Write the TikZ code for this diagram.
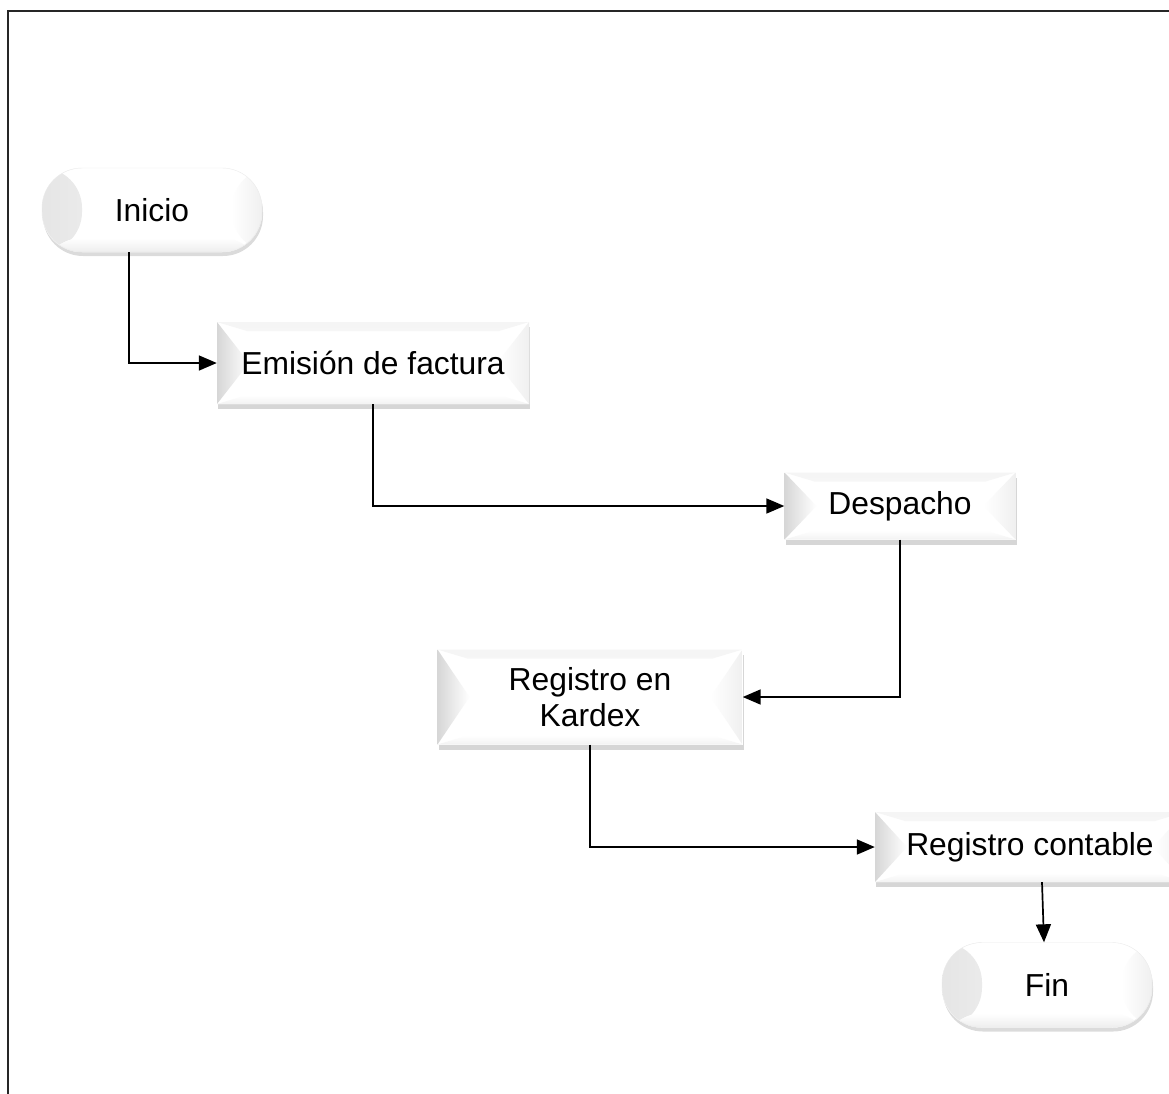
\documentclass[tikz,border=0pt]{standalone}
\usepackage{fontspec}
\setmainfont{Liberation Sans}
\usetikzlibrary{arrows.meta,shadows,calc}
\tikzset{
  txt/.style={font=\fontsize{31.8}{36}\selectfont, text=black},
  bevelbox/.style={txt, fill=white, inner sep=0pt, align=center,
    drop shadow={shadow xshift=1pt, shadow yshift=-5pt, fill=black!40, opacity=0.4},
    path picture={
      \fill[top color=black!4, bottom color=white]
        (path picture bounding box.north west) -- (path picture bounding box.north east)
        -- ([xshift=-30pt,yshift=-9pt]path picture bounding box.north east)
        -- ([xshift=30pt,yshift=-9pt]path picture bounding box.north west) -- cycle;
      \fill[bottom color=black!5, top color=white]
        (path picture bounding box.south west) -- (path picture bounding box.south east)
        -- ([xshift=-30pt,yshift=9pt]path picture bounding box.south east)
        -- ([xshift=30pt,yshift=9pt]path picture bounding box.south west) -- cycle;
      \fill[left color=black!16, right color=white]
        (path picture bounding box.north west)
        -- ([xshift=32pt]path picture bounding box.west)
        -- (path picture bounding box.south west) -- cycle;
      \fill[right color=black!6, left color=white]
        (path picture bounding box.north east)
        -- ([xshift=-32pt]path picture bounding box.east)
        -- (path picture bounding box.south east) -- cycle;
    }},
  pill/.style={txt, fill=white, draw=black!8, inner sep=0pt, rounded corners=40pt,
    drop shadow={shadow xshift=1pt, shadow yshift=-4pt, fill=black!40, opacity=0.35},
    path picture={
      \fill[left color=black!10, right color=white]
        (path picture bounding box.north west) rectangle ([xshift=40pt]path picture bounding box.south west);
      \fill[bottom color=black!7, top color=white]
        (path picture bounding box.south west) rectangle ([yshift=14pt]path picture bounding box.south east);
      \fill[right color=black!6, left color=white]
        (path picture bounding box.north east) rectangle ([xshift=-30pt]path picture bounding box.south east);
    }},
  conn/.style={line width=1.7pt, -{Triangle[length=18pt,width=15pt]}},
  frame/.style={line width=2.2pt, black!85}
}
\begin{document}
\begin{tikzpicture}[x=1pt,y=-1pt]
\useasboundingbox (0,0) rectangle (1169,1093);
\clip (0,0) rectangle (1169,1093);
\draw[frame] (8,1100) -- (8,11) -- (1180,11);

\node[pill, minimum width=220pt, minimum height=84pt] (ini) at (152,210) {Inicio};
\node[bevelbox, minimum width=312pt, minimum height=82pt] (emi) at (373,363) {Emisión de factura};
\node[bevelbox, minimum width=231pt, minimum height=67pt] (des) at (900,506) {Despacho};
\node[bevelbox, minimum width=305pt, minimum height=95pt] (kar) at (590,697) {Registro en\\Kardex};
\node[bevelbox, minimum width=310pt, minimum height=70pt] (con) at (1030,847) {Registro contable};
\node[pill, minimum width=210pt, minimum height=85pt] (fin) at (1047,985) {Fin};

\draw[conn] ($(ini.south)+(-23,0)$) |- (emi.west);
\draw[conn] (emi.south) |- (des.west);
\draw[conn] (des.south) |- (kar.east);
\draw[conn] (kar.south) |- (con.west);
\draw[conn] ($(con.south)+(12,0)$) -- ($(fin.north)+(-3,0)$);
\end{tikzpicture}
\end{document}
